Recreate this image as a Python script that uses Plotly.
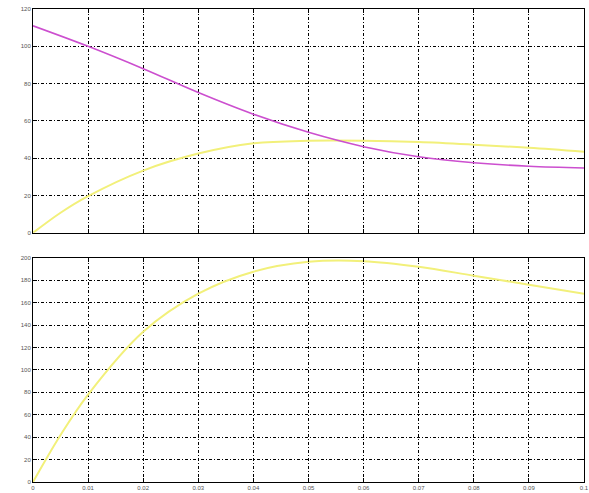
import plotly.graph_objects as go
from plotly.subplots import make_subplots

x_top = [0, 0.01, 0.02, 0.03, 0.04, 0.05, 0.06, 0.07, 0.08, 0.09, 0.1]
magenta_top = [111, 100, 88, 75.2, 63.6, 53.9, 46.2, 40.8, 37.6, 35.7, 34.8]
x_top_y = [0, 0.005, 0.01, 0.02, 0.03, 0.04, 0.05, 0.06, 0.07, 0.08, 0.09, 0.1]
yellow_top = [0, 10.8, 19.7, 33.4, 42.5, 48, 49.4, 49.4, 48.7, 47.3, 45.6, 43.5]

x_bot = [0, 0.005, 0.01, 0.02, 0.03, 0.04, 0.05, 0.06, 0.07, 0.08, 0.09, 0.1]
yellow_bot = [0, 42, 78, 134, 168, 187.6, 196.4, 197, 192, 184, 176, 168]

x_ticks = [0, 0.01, 0.02, 0.03, 0.04, 0.05, 0.06, 0.07, 0.08, 0.09, 0.1]
x_labels = ["0", "0.01", "0.02", "0.03", "0.04", "0.05", "0.06", "0.07", "0.08", "0.09", "0.1"]
y_top_ticks = [0, 20, 40, 60, 80, 100, 120]
y_bot_ticks = [0, 20, 40, 60, 80, 100, 120, 140, 160, 180, 200]

fig = make_subplots(rows=2, cols=1)

fig.add_trace(go.Scatter(x=x_top_y, y=yellow_top, mode="lines",
                         line=dict(color="#f2f07a", width=2, shape="spline")), row=1, col=1)
fig.add_trace(go.Scatter(x=x_top, y=magenta_top, mode="lines",
                         line=dict(color="#cc4fcf", width=1.6, shape="spline")), row=1, col=1)
fig.add_trace(go.Scatter(x=x_bot, y=yellow_bot, mode="lines",
                         line=dict(color="#f2f07a", width=2, shape="spline")), row=2, col=1)

axis_common = dict(showline=True, linecolor="black", linewidth=1, mirror="ticks",
                   ticks="inside", ticklen=4, tickcolor="black", automargin=False,
                   showgrid=True, gridcolor="black", gridwidth=1,
                   griddash="3px,2px,1px,2px",
                   zeroline=False, tickfont=dict(size=6, color="#555555",
                                                 family="Liberation Sans, Arial"))

fig.update_layout(
    width=589, height=493,
    margin=dict(l=33, r=5, t=9, b=11),
    paper_bgcolor="white", plot_bgcolor="white",
    showlegend=False,
    xaxis=dict(domain=[0, 1], range=[0, 0.1], tickvals=x_ticks, ticktext=x_labels,
               showticklabels=False, anchor="y", **axis_common),
    yaxis=dict(domain=[0.5267, 1.0], range=[0, 120], tickvals=y_top_ticks, anchor="x",
               **axis_common),
    xaxis2=dict(domain=[0, 1], range=[0, 0.1], tickvals=x_ticks, ticktext=x_labels,
                anchor="y2", ticklabelstandoff=0, **axis_common),
    yaxis2=dict(domain=[0, 0.474], range=[0, 200], tickvals=y_bot_ticks, anchor="x2",
                **axis_common),
)

fig.write_html("out.html", config={"displayModeBar": False},
               post_script="document.body.style.margin='0';document.body.style.overflow='hidden';")
